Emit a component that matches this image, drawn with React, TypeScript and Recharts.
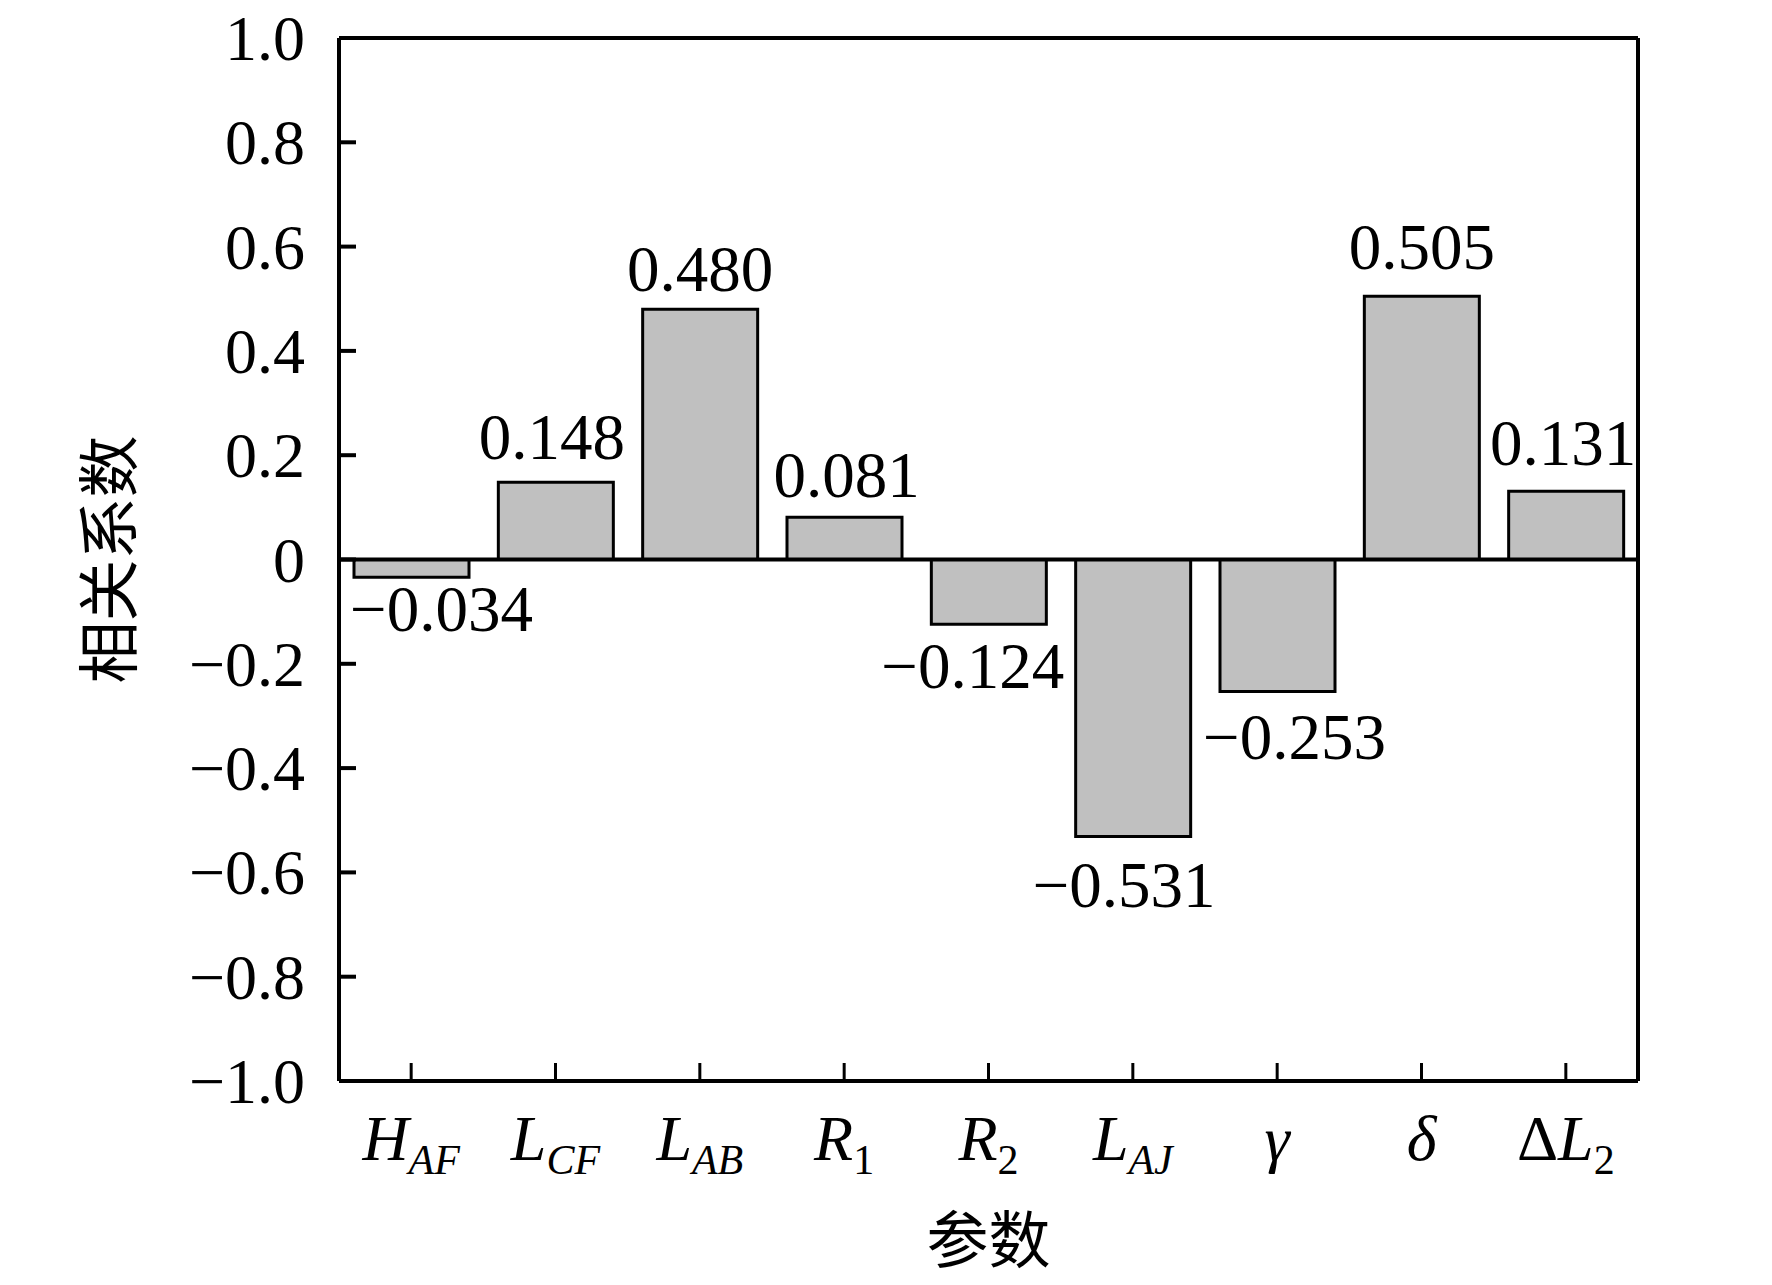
import React from 'react';
import { BarChart, Bar, XAxis, YAxis, ReferenceLine, LabelList, Label } from 'recharts';

// ---- data ----
const categories = ['HAF', 'LCF', 'LAB', 'R1', 'R2', 'LAJ', 'gamma', 'delta', 'dL2'];
const values = [-0.034, 0.148, 0.48, 0.081, -0.124, -0.531, -0.253, 0.505, 0.131];
const yTicks = [-1.0, -0.8, -0.6, -0.4, -0.2, 0, 0.2, 0.4, 0.6, 0.8, 1.0];
type Part = { t: string; italic?: boolean; sub?: boolean };
const tickLabels: Record<string, Part[]> = {
  HAF: [{ t: 'H', italic: true }, { t: 'AF', italic: true, sub: true }],
  LCF: [{ t: 'L', italic: true }, { t: 'CF', italic: true, sub: true }],
  LAB: [{ t: 'L', italic: true }, { t: 'AB', italic: true, sub: true }],
  R1: [{ t: 'R', italic: true }, { t: '1', sub: true }],
  R2: [{ t: 'R', italic: true }, { t: '2', sub: true }],
  LAJ: [{ t: 'L', italic: true }, { t: 'AJ', italic: true, sub: true }],
  gamma: [{ t: 'γ', italic: true }],
  delta: [{ t: 'δ', italic: true }],
  dL2: [{ t: 'Δ' }, { t: 'L', italic: true }, { t: '2', sub: true }],
};
const yTitle = '相关系数';
const xTitle = '参数';

const data = categories.map((c, i) => ({ name: c, value: values[i] }));

// ---- label style offsets (relative to bar geometry) ----
const labelDx = [30, -4, 0, 2, -16, -9, 17, 0, -3];
const labelGap = [54, 23, 18, 20, 64, 71, 68, 27, 26];

const SERIF = '"Liberation Serif", "Times New Roman", serif';
const CJK = '"Noto Sans CJK SC", sans-serif';

const fmt = (v: number) => {
  if (v === 0) return '0';
  const s = Math.abs(v).toFixed(1);
  return v < 0 ? '−' + s : s;
};
const fmt3 = (v: number) => (v < 0 ? '−' + Math.abs(v).toFixed(3) : v.toFixed(3));

const XTick = (props: any) => {
  const { x, y, payload } = props;
  const parts = tickLabels[payload.value] || [{ t: String(payload.value) }];
  return (
    <g>
      <line x1={x} y1={y} x2={x} y2={y - 18} stroke="#000" strokeWidth={3} />
      <text x={x} y={y + 79} textAnchor="middle" fontFamily={SERIF} fontSize={64} fill="#000">
        {parts.map((p, i) => (
          <tspan
            key={i}
            fontStyle={p.italic ? 'italic' : 'normal'}
            fontSize={p.sub ? 42 : 64}
            dy={p.sub ? 14 : 0}
          >
            {p.t}
          </tspan>
        ))}
      </text>
    </g>
  );
};

const YTick = (props: any) => {
  const { x, y, payload } = props;
  return (
    <g>
      <line x1={x} y1={y} x2={x + 17} y2={y} stroke="#000" strokeWidth={4} />
      <text x={x - 34} y={y} dy={22} textAnchor="end" fontFamily={SERIF} fontSize={64} fill="#000">
        {fmt(payload.value)}
      </text>
    </g>
  );
};

const ValueLabel = (props: any) => {
  const { x, y, width, height, value, index } = props;
  const top = Math.min(y, y + height);
  const bottom = Math.max(y, y + height);
  const cx = x + width / 2 + (labelDx[index] || 0);
  const ty = value < 0 ? bottom + labelGap[index] : top - labelGap[index];
  return (
    <text x={cx} y={ty} textAnchor="middle" fontFamily={SERIF} fontSize={65} fill="#000">
      {fmt3(value)}
    </text>
  );
};

const YTitle = (props: any) => {
  const vb = props.viewBox || {};
  const cx = vb.x + vb.width - 234;
  const cy = vb.y + vb.height / 2;
  return (
    <text
      x={cx}
      y={cy}
      transform={`rotate(-90, ${cx}, ${cy})`}
      textAnchor="middle"
      dominantBaseline="central"
      fontFamily={CJK}
      fontSize={62}
      fill="#000"
    >
      {yTitle}
    </text>
  );
};

const XTitle = (props: any) => {
  const vb = props.viewBox || {};
  const cx = vb.x + vb.width / 2;
  const cy = vb.y + 155;
  return (
    <text x={cx} y={cy} textAnchor="middle" dominantBaseline="central" fontFamily={CJK} fontSize={62} fill="#000">
      {xTitle}
    </text>
  );
};

export default function App() {
  return (
    <div style={{ position: 'absolute', left: 0, top: 0, width: 1772, height: 1285, background: '#fff' }}>
      <BarChart
        width={1772}
        height={1285}
        data={data}
        margin={{ top: 28, right: 124, bottom: 104, left: 279 }}
        barSize={115}
      >
        <XAxis
          dataKey="name"
          interval={0}
          tickSize={0}
          tickMargin={0}
          tickLine={false}
          tick={<XTick />}
          height={100}
          axisLine={{ stroke: '#000', strokeWidth: 4 }}
        >
          <Label content={<XTitle />} />
        </XAxis>
        <XAxis
          xAxisId="top"
          dataKey="name"
          orientation="top"
          height={10}
          tick={false}
          tickLine={false}
          axisLine={{ stroke: '#000', strokeWidth: 4 }}
        />
        <YAxis
          type="number"
          domain={[-1, 1]}
          ticks={yTicks}
          interval={0}
          width={60}
          tickSize={0}
          tickMargin={0}
          tickLine={false}
          tick={<YTick />}
          axisLine={{ stroke: '#000', strokeWidth: 4 }}
        >
          <Label content={<YTitle />} />
        </YAxis>
        <YAxis
          yAxisId="right"
          orientation="right"
          type="number"
          domain={[-1, 1]}
          width={10}
          tick={false}
          tickLine={false}
          axisLine={{ stroke: '#000', strokeWidth: 4 }}
        />
        <Bar dataKey="value" fill="#c0c0c0" stroke="#000" strokeWidth={3} isAnimationActive={false}>
          <LabelList dataKey="value" content={<ValueLabel />} />
        </Bar>
        <ReferenceLine y={0} stroke="#000" strokeWidth={4} />
      </BarChart>
    </div>
  );
}
